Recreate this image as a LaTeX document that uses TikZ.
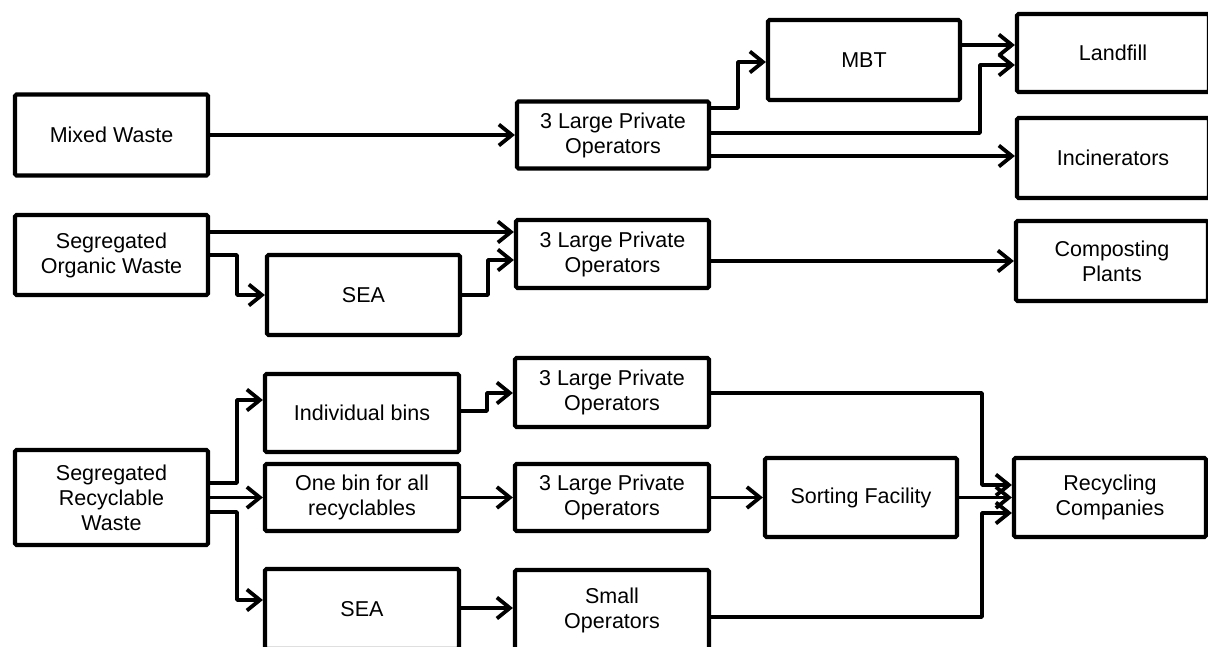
\documentclass[tikz,border=0pt]{standalone}
\usepackage{fontspec}
\setmainfont{Liberation Sans}
\usetikzlibrary{arrows.meta}
\tikzset{
  box/.style={draw=black, line width=4.2pt, rounded corners=1.5pt, inner sep=0pt,
    align=center, font=\fontsize{21.5}{25}\selectfont},
  arr/.style={draw=black, line width=3.8pt, line join=round,
    -{Straight Barb[length=13pt,width=21pt]}},
}
\begin{document}
\begin{tikzpicture}[x=1pt,y=-1pt]
\useasboundingbox (0,0) rectangle (1208,647);
\clip (0,0) rectangle (1208,647);
% top group
\node[box, minimum width=193pt, minimum height=81pt] (MW) at (111.5,135) {Mixed Waste};
\node[box, minimum width=192pt, minimum height=67pt] (LPOa) at (613,135) {3 Large Private\\Operators};
\node[box, minimum width=192pt, minimum height=80pt] (MBT) at (864,60) {MBT};
\node[box, minimum width=192pt, minimum height=78pt] (LF) at (1113,53) {Landfill};
\node[box, minimum width=192pt, minimum height=80pt] (INC) at (1113,158) {Incinerators};
% middle group
\node[box, minimum width=193pt, minimum height=80pt] (SOW) at (111.5,255) {Segregated\\Organic Waste};
\node[box, minimum width=193pt, minimum height=80pt] (SEAa) at (363.5,295) {SEA};
\node[box, minimum width=193pt, minimum height=68pt] (LPOb) at (612.5,254) {3 Large Private\\Operators};
\node[box, minimum width=192pt, minimum height=80pt] (CP) at (1112,261) {Composting\\Plants};
% bottom group
\node[box, minimum width=193pt, minimum height=95pt] (SRW) at (111.5,497.5) {Segregated\\Recyclable\\Waste};
\node[box, minimum width=194pt, minimum height=78pt] (IB) at (362,413) {Individual bins};
\node[box, minimum width=194pt, minimum height=67pt] (OB) at (362,497.5) {One bin for all\\recyclables};
\node[box, minimum width=194pt, minimum height=80pt] (SEAb) at (362,609) {SEA};
\node[box, minimum width=194pt, minimum height=69pt] (LPOc) at (612,392.5) {3 Large Private\\Operators};
\node[box, minimum width=194pt, minimum height=67pt] (LPOd) at (612,497.5) {3 Large Private\\Operators};
\node[box, minimum width=194pt, minimum height=80pt] (SO) at (612,610) {Small\\Operators};
\node[box, minimum width=192pt, minimum height=79pt] (SF) at (861,497.5) {Sorting Facility};
\node[box, minimum width=192pt, minimum height=79pt] (RC) at (1110,497.5) {Recycling\\Companies};
% connectors top
\draw[arr] (MW.east) -- (LPOa.west);
\draw[arr] (LPOa.east |- 0,108) -- (738,108) |- (MBT.west |- 0,62);
\draw[arr] (LPOa.east |- 0,133) -- (980,133) |- (LF.west |- 0,65);
\draw[arr] (LPOa.east |- 0,156) -- (INC.west |- 0,156);
\draw[arr] (MBT.east |- 0,45) -- (LF.west |- 0,45);
% connectors middle
\draw[arr] (SOW.east |- 0,232) -- (LPOb.west |- 0,232);
\draw[arr] (SOW.east |- 0,255) -- (237,255) |- (SEAa.west);
\draw[arr] (SEAa.east) -- (488,295) |- (LPOb.west |- 0,260);
\draw[arr] (LPOb.east |- 0,261) -- (CP.west |- 0,261);
% connectors bottom
\draw[arr] (SRW.east |- 0,483) -- (237,483) |- (IB.west |- 0,400);
\draw[arr] (SRW.east) -- (OB.west);
\draw[arr] (SRW.east |- 0,512) -- (237,512) |- (SEAb.west |- 0,600);
\draw[arr] (IB.east |- 0,411) -- (487,411) |- (LPOc.west |- 0,393);
\draw[arr] (OB.east) -- (LPOd.west);
\draw[arr] (SEAb.east |- 0,608) -- (SO.west |- 0,608);
\draw[arr] (LPOc.east |- 0,393) -- (982,393) |- (RC.west |- 0,485);
\draw[arr] (LPOd.east) -- (SF.west);
\draw[arr] (SF.east) -- (RC.west);
\draw[arr] (SO.east |- 0,617) -- (982,617) |- (RC.west |- 0,513);
\end{tikzpicture}
\end{document}
